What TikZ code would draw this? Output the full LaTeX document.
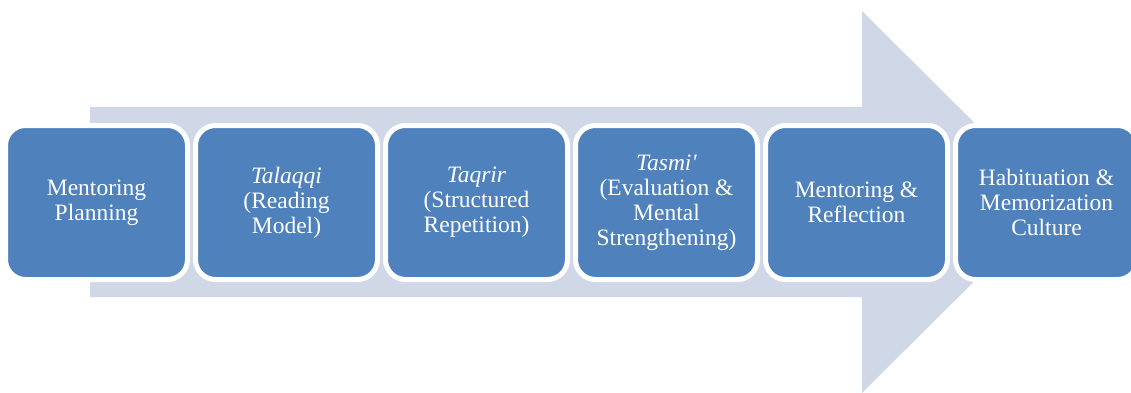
\documentclass[tikz,border=0pt]{standalone}
\usepackage{fontspec}
\setmainfont{Liberation Serif}
\usetikzlibrary{positioning}
\definecolor{stepblue}{RGB}{79,129,189}
\definecolor{arrowgrey}{RGB}{208,215,230}

\begin{document}
\begin{tikzpicture}[x=1pt, y=-1pt, node distance=3pt,
    stage/.style={rectangle, rounded corners=20pt, draw=white, line width=5pt, fill=stepblue,
        minimum width=182pt, minimum height=154pt, text=white, align=center,
        font=\fontsize{23.5}{25}\selectfont}]
    \useasboundingbox (0,0) rectangle (1131,393);
    % big background arrow
    \fill[arrowgrey] (90,107) -- (862,107) -- (862,11) -- (1054,202) -- (862,393)
        -- (862,297) -- (90,297) -- cycle;
    \node[stage] (s1) at (96.5,202.5) {Mentoring\\Planning};
    \node[stage, right=of s1] (s2) {\textit{Talaqqi}\\(Reading\\Model)};
    \node[stage, right=of s2] (s3) {\textit{Taqrir}\\(Structured\\Repetition)};
    \node[stage, right=of s3] (s4) {\textit{Tasmi\textquotesingle}\\(Evaluation \&\\Mental\\Strengthening)};
    \node[stage, right=of s4] (s5) {Mentoring \&\\Reflection};
    \node[stage, right=of s5] (s6) {Habituation \&\\Memorization\\Culture};
\end{tikzpicture}
\end{document}
